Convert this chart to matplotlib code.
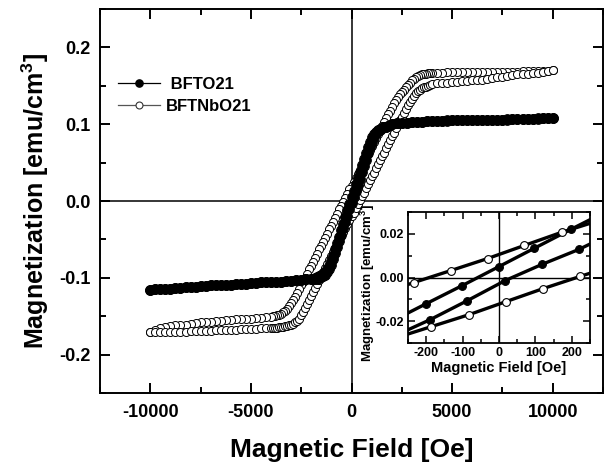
import matplotlib
matplotlib.use("Agg")
import matplotlib.pyplot as plt
from matplotlib.lines import Line2D
from matplotlib.ticker import MultipleLocator, FormatStrFormatter

plt.rcParams.update({
    "font.family": ["Liberation Sans", "DejaVu Sans"],
    "font.weight": "bold",
    "axes.labelweight": "bold",
    "axes.unicode_minus": False,
    "mathtext.fontset": "custom",
    "mathtext.rm": "Liberation Sans:bold",
    "mathtext.bf": "Liberation Sans:bold",
    "mathtext.default": "rm",
})

# ---------------- main plot data (field sweep in Oe, magnetization in emu/cm^3)
# BFTO21 descending branch (+10000 -> -10000)
H_BFTO_DOWN = [*range(10000, 1999, -250), *range(1900, -2000, -100), *range(-2000, -10001, -250)]
M_BFTO_DOWN = [
    .108, .108, .108, .107, .107, .107, .107, .107, .107, .106, .106, .106, .106, .106, .106, .105, .105,
    .105, .105, .105, .105, .104, .104, .104, .104, .104, .103, .103, .103, .102, .102, .101, .100,
    .099, .098, .097, .096, .095, .094, .092, .090, .087, .083,
    .077, .070, .062, .055, .047, .038, .030, .022, .013, .005,
    -.004, -.012, -.021, -.030, -.038, -.047, -.055, -.063, -.071,
    -.078, -.084, -.089, -.092, -.095, -.097, -.098, -.099, -.100, -.101,
    -.102, -.102, -.103, -.103, -.104, -.104, -.105, -.105, -.106, -.106, -.106, -.107, -.107, -.108,
    -.108, -.108, -.109, -.109, -.110, -.110, -.110, -.111, -.111, -.112, -.112, -.112, -.113, -.113,
    -.114, -.114, -.115, -.115, -.116,
]
# BFTO21 ascending branch (-10000 -> +10000)
H_BFTO_UP = [*range(-10000, -1999, 250), *range(-1900, 2000, 100), *range(2000, 10001, 250)]
M_BFTO_UP = [
    -.116, -.115, -.115, -.114, -.114, -.113, -.113, -.112, -.112, -.112, -.111, -.111, -.110, -.110,
    -.110, -.109, -.109, -.108, -.108, -.108, -.107, -.107, -.106, -.106, -.106, -.105, -.105, -.104,
    -.104, -.103, -.103, -.102, -.102,
    -.102, -.101, -.101, -.100, -.099, -.098, -.096, -.093, -.089, -.083,
    -.076, -.068, -.060, -.052, -.044, -.035, -.027, -.019, -.011, -.003,
    .005, .013, .021, .029, .038, .046, .054, .062, .070,
    .077, .083, .088, .091, .093, .095, .096, .097, .098, .099,
    .100, .101, .102, .102, .103, .103, .103, .104, .104, .104, .104, .105, .105, .105, .105, .105,
    .105, .106, .106, .106, .106, .106, .106, .107, .107, .107, .107, .107, .107, .108, .108, .108, .108,
]
# BFTNbO21 descending branch (+10000 -> -10000)
H_NB_DOWN = [*range(10000, 3999, -250), *range(3900, -4000, -100), *range(-4000, -10001, -250)]
M_NB_DOWN = [
    .170, .169, .169, .169, .169, .169, .169, .168, .168, .168, .168, .168, .168, .168, .168, .168,
    .168, .168, .168, .168, .168, .168, .167, .167, .167,
    .167, .167, .166, .166, .165, .164, .163, .161, .159, .157,
    .154, .151, .148, .145, .142, .139, .135, .131, .127, .122,
    .117, .113, .108, .103, .098, .093, .087, .082, .077, .072,
    .067, .061, .056, .051, .046, .041, .035, .030, .025, .020,
    .015, .009, .004, -.001, -.006, -.011, -.017, -.022, -.027, -.032,
    -.037, -.043, -.048, -.053, -.058, -.063, -.069, -.074, -.079, -.084,
    -.089, -.095, -.100, -.105, -.110, -.115, -.120, -.125, -.129, -.133,
    -.137, -.140, -.143, -.145, -.147, -.148, -.149, -.150, -.150,
    -.151, -.151, -.152, -.152, -.153, -.153, -.154, -.154, -.155, -.155, -.156, -.156, -.157,
    -.158, -.158, -.159, -.160, -.161, -.161, -.162, -.163, -.164, -.166, -.168, -.171,
]
# BFTNbO21 ascending branch (-10000 -> +10000)
H_NB_UP = [*range(-10000, -3999, 250), *range(-3900, 4000, 100), *range(4000, 10001, 250)]
M_NB_UP = [
    -.171, -.171, -.171, -.170, -.170, -.170, -.170, -.170, -.169, -.169, -.169, -.169, -.169,
    -.168, -.168, -.168, -.168, -.168, -.167, -.167, -.167, -.167, -.166, -.166, -.165,
    -.165, -.165, -.165, -.164, -.164, -.164, -.163, -.163, -.162, -.161,
    -.160, -.158, -.156, -.153, -.149, -.145, -.139, -.134, -.129, -.124,
    -.119, -.113, -.108, -.103, -.098, -.093, -.087, -.082, -.077, -.072,
    -.067, -.061, -.056, -.051, -.046, -.041, -.035, -.030, -.025, -.020,
    -.015, -.009, -.004, .001, .006, .011, .017, .022, .027, .032,
    .037, .043, .048, .053, .058, .063, .069, .074, .079, .084,
    .089, .095, .100, .105, .110, .115, .120, .125, .129, .133,
    .137, .140, .143, .145, .147, .148, .149, .150, .151,
    .152, .153, .154, .154, .155, .155, .156, .156, .157, .157, .158, .159, .160,
    .161, .162, .163, .164, .165, .165, .166, .167, .167, .168, .169, .170,
]

# ---------------- inset data (low-field region)
HI_BFTO_DOWN = [300, 197, 96, 0, -101, -200, -300]
MI_BFTO_DOWN = [0.0307, 0.0220, 0.0133, 0.0050, -0.0037, -0.0120, -0.0205]
HI_BFTO_UP = [-290, -189, -87, 17, 118, 220, 320]
MI_BFTO_UP = [-0.0270, -0.0193, -0.0106, -0.0014, 0.0060, 0.0129, 0.0210]
HI_NB_DOWN = [273, 172, 70, -31, -132, -234, -335]
MI_NB_DOWN = [0.0260, 0.0207, 0.0147, 0.0087, 0.0032, -0.0023, -0.0080]
HI_NB_UP = [-290, -186, -82, 20, 121, 223, 325]
MI_NB_UP = [-0.0280, -0.0225, -0.0170, -0.0110, -0.0051, 0.0005, 0.0060]

LABELS = [" BFTO21", "BFTNbO21"]

W, Hpx = 606, 469
fig = plt.figure(figsize=(W / 100, Hpx / 100), dpi=100)
ax = fig.add_axes([100 / W, 1 - 393 / Hpx, 503 / W, 384 / Hpx])

ax.axhline(0, color="black", lw=1.1, zorder=1)
ax.axvline(0, color="black", lw=1.1, zorder=1)

open_kw = dict(color="black", lw=0.8, marker="o", ms=5.8, mfc="white", mec="black", mew=0.7)
fill_kw = dict(color="black", lw=0.8, marker="o", ms=7.0, mfc="black", mec="black", mew=0.7)

ax.plot(H_NB_DOWN + H_NB_UP, M_NB_DOWN + M_NB_UP, zorder=2, **open_kw)
ax.plot(H_BFTO_DOWN + H_BFTO_UP, M_BFTO_DOWN + M_BFTO_UP, zorder=3, **fill_kw)

ax.set_xlim(-12500, 12500)
ax.set_ylim(-0.25, 0.25)
ax.xaxis.set_major_locator(MultipleLocator(5000))
ax.xaxis.set_minor_locator(MultipleLocator(2500))
ax.yaxis.set_major_locator(MultipleLocator(0.1))
ax.yaxis.set_minor_locator(MultipleLocator(0.05))
ax.yaxis.set_major_formatter(FormatStrFormatter("%.1f"))
ax.tick_params(which="both", direction="in", top=True, right=True, width=1.4, labelsize=13)
ax.tick_params(which="major", length=7)
ax.tick_params(which="minor", length=4)
ax.tick_params(axis="x", pad=8)
ax.tick_params(axis="y", pad=7)
for s in ax.spines.values():
    s.set_linewidth(1.4)
ax.set_xlabel("Magnetic Field [Oe]", fontsize=19, labelpad=12)
ax.set_ylabel(r"Magnetization [emu/cm$^{3}$]", fontsize=18, labelpad=6)

h_bf = Line2D([], [], color="black", lw=0.9, marker="o", ms=5.2, mfc="black", mec="black")
h_nb = Line2D([], [], color="#555555", lw=0.9, marker="o", ms=5.0, mfc="white", mec="#333333", mew=0.8)
ax.legend(handles=[h_bf, h_nb], labels=LABELS, loc="upper left", bbox_to_anchor=(118 / W, 1 - 77 / Hpx),
          bbox_transform=fig.transFigure, frameon=False, fontsize=12, handlelength=2.5,
          handletextpad=0.35, labelspacing=0.42, borderpad=0, borderaxespad=0)

# ---------------- inset
axi = fig.add_axes([408 / W, 1 - 343 / Hpx, 182 / W, 131 / Hpx])
axi.axhline(0, color="black", lw=1.0, zorder=1)
axi.axvline(0, color="black", lw=1.0, zorder=1)
in_fill = dict(color="black", lw=2.4, marker="o", ms=5.6, mfc="black", mec="black", mew=0.8)
in_open = dict(color="black", lw=2.4, marker="o", ms=5.6, mfc="white", mec="black", mew=0.8)
axi.plot(HI_BFTO_DOWN, MI_BFTO_DOWN, zorder=2, **in_fill)
axi.plot(HI_BFTO_UP, MI_BFTO_UP, zorder=2, **in_fill)
axi.plot(HI_NB_DOWN, MI_NB_DOWN, zorder=3, **in_open)
axi.plot(HI_NB_UP, MI_NB_UP, zorder=3, **in_open)
axi.set_xlim(-250, 250)
axi.set_ylim(-0.03, 0.03)
axi.xaxis.set_major_locator(MultipleLocator(100))
axi.xaxis.set_minor_locator(MultipleLocator(50))
axi.yaxis.set_major_locator(MultipleLocator(0.02))
axi.yaxis.set_minor_locator(MultipleLocator(0.01))
axi.yaxis.set_major_formatter(FormatStrFormatter("%.2f"))
axi.tick_params(which="both", direction="in", top=True, right=True, width=1.1, labelsize=9, pad=3)
axi.tick_params(which="major", length=5)
axi.tick_params(which="minor", length=3)
for s in axi.spines.values():
    s.set_linewidth(1.3)
axi.set_xlabel("Magnetic Field [Oe]", fontsize=10.5, labelpad=1)
axi.set_ylabel(r"Magnetization [emu/cm$^{3}$]", fontsize=9.5)
axi.yaxis.set_label_coords(-0.17, 0.46)

fig.savefig("out.png", dpi=100)
